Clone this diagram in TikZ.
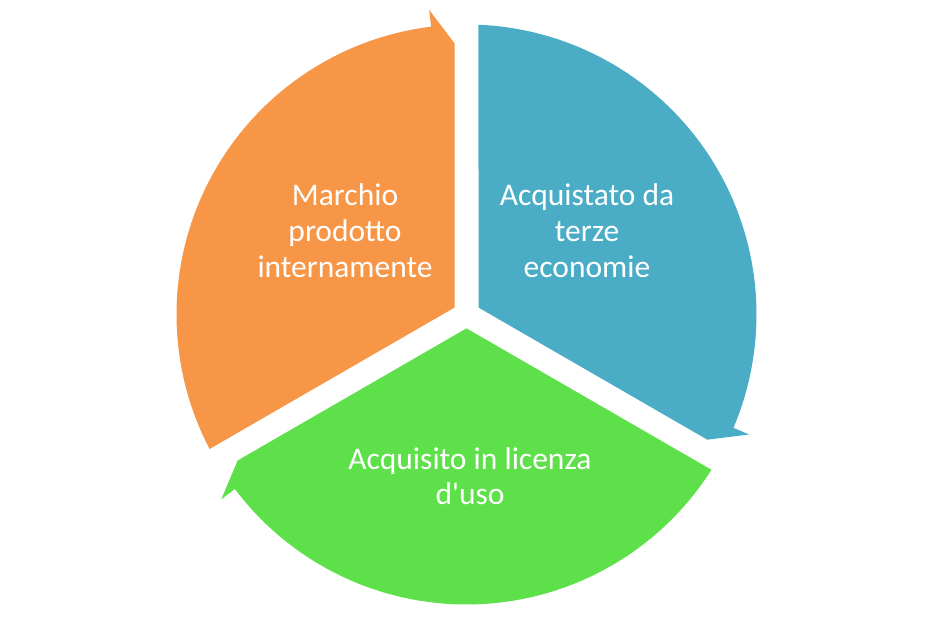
\documentclass[tikz,border=0pt]{standalone}
\usepackage{fontspec}
\setmainfont{Carlito}
\usetikzlibrary{calc}
\definecolor{orng}{RGB}{247,150,70}
\definecolor{blu}{RGB}{75,172,198}
\definecolor{grn}{RGB}{94,224,74}
\begin{document}
\begin{tikzpicture}[x=1pt,y=1pt,
  lbl/.style={text=white, align=center, font=\fontsize{31.5}{36}\selectfont, inner sep=0pt}]
\useasboundingbox (0,0) rectangle (935,627);
\coordinate (C) at (466.5,312.5);
\foreach \h/\c in {90/orng,-30/blu,210/grn}{
  \fill[\c] ($(C)+({\h+60}:13.86)$) -- ($(C)+({\h+117.63}:290)$)
    arc[start angle={\h+117.63}, end angle={\h+7}, radius=290]
    -- ($(C)+({\h+7}:307)$) -- ($(C)+(\h:271.2)+({\h+90}:12)$) -- cycle;
}
\node[lbl] (o) at (345,396) {Marchio\\prodotto\\internamente};
\node[lbl] (b) at (587,396) {Acquistato da\\terze\\economie};
\node[lbl, font=\fontsize{31.5}{34.5}\selectfont] (g) at (470,151) {Acquisito in licenza\\d\textquotesingle uso};
\end{tikzpicture}
\end{document}
